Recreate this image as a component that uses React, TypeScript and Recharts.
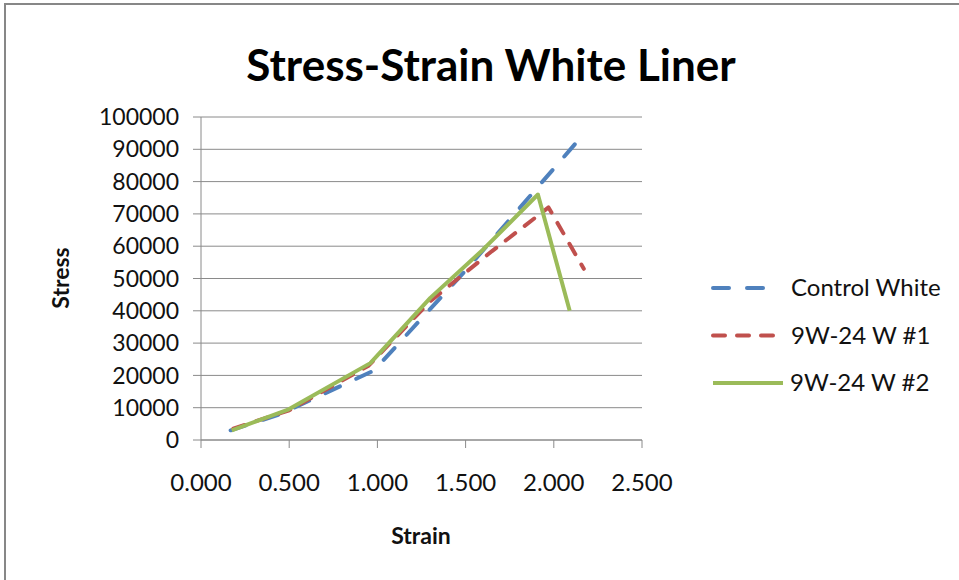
import { CartesianGrid, Line, LineChart, XAxis, YAxis } from "recharts";

const strainTicks = [0, 0.5, 1, 1.5, 2, 2.5];
const stressTicks = [0, 10000, 20000, 30000, 40000, 50000, 60000, 70000, 80000, 90000, 100000];

const controlWhite = [
  { strain: 0.168, stress: 3000 },
  { strain: 0.45, stress: 8000 },
  { strain: 0.98, stress: 21500 },
  { strain: 1.5, stress: 52500 },
  { strain: 2.15, stress: 93500 },
];

const w1 = [
  { strain: 0.183, stress: 3500 },
  { strain: 0.5, stress: 9200 },
  { strain: 0.95, stress: 23000 },
  { strain: 1.3, stress: 43000 },
  { strain: 1.65, stress: 58500 },
  { strain: 1.97, stress: 72000 },
  { strain: 2.17, stress: 53000 },
];

const w2 = [
  { strain: 0.174, stress: 3000 },
  { strain: 0.49, stress: 9300 },
  { strain: 0.96, stress: 23800 },
  { strain: 1.3, stress: 44000 },
  { strain: 1.6, stress: 59000 },
  { strain: 1.91, stress: 76000 },
  { strain: 2.09, stress: 40000 },
];

const series = [
  { name: "Control White", data: controlWhite, color: "#4F81BD", dash: "16 18", width: 4, lineEnd: 54, textX: 80 },
  { name: "9W-24 W #1", data: w1, color: "#C0504D", dash: "12 12", width: 4, lineEnd: 74, textX: 80 },
  { name: "9W-24 W #2", data: w2, color: "#9BBB59", dash: undefined, width: 4, lineEnd: 72, textX: 79 },
];

const font = "Lato, 'Open Sans', sans-serif";

function LegendBox() {
  return (
    <svg width={250} height={140} style={{ overflow: "visible" }}>
      {series.map((s, i) => (
        <g key={s.name} transform={`translate(0, ${i * 47.5})`}>
          <line
            x1={2}
            x2={s.lineEnd}
            y1={0}
            y2={0}
            stroke={s.color}
            strokeWidth={s.width}
            strokeDasharray={s.dash}
            strokeLinecap={s.dash ? "round" : "butt"}
          />
          <text x={s.textX} y={0} dy="0.35em" fontSize={24} fontFamily={font} fill="#111">
            {s.name}
          </text>
        </g>
      ))}
    </svg>
  );
}

export default function App() {
  return (
    <div style={{ position: "absolute", left: 0, top: 0, width: 959, height: 580, overflow: "hidden", background: "#fff" }}>
      <div style={{ position: "absolute", left: 4, top: 3, width: 1100, height: 800, border: "2px solid #878787" }} />
      <div
        style={{
          position: "absolute",
          left: 0,
          width: 982,
          top: 36,
          textAlign: "center",
          fontFamily: font,
          fontWeight: 700,
          fontSize: 44,
          lineHeight: "56px",
          color: "#000",
        }}
      >
        Stress-Strain White Liner
      </div>
      <div
        style={{
          position: "absolute",
          left: 60,
          top: 278,
          transform: "translate(-50%, -50%) rotate(-90deg)",
          fontFamily: font,
          fontWeight: 700,
          fontSize: 23,
          color: "#111",
        }}
      >
        Stress
      </div>
      <div
        style={{
          position: "absolute",
          left: 421,
          top: 535,
          transform: "translate(-50%, -50%)",
          fontFamily: font,
          fontWeight: 700,
          fontSize: 23,
          color: "#111",
        }}
      >
        Strain
      </div>
      <div style={{ position: "absolute", left: 711, top: 288 }}>
        <LegendBox />
      </div>
      <LineChart
        width={959}
        height={580}
        margin={{ top: 117, right: 317, bottom: 0, left: 0 }}
        style={{ position: "absolute", left: 0, top: 0 }}
      >
        <CartesianGrid horizontal vertical={false} stroke="#8a8a8a" strokeWidth={1} />
        <XAxis
          type="number"
          dataKey="strain"
          domain={[0, 2.5]}
          ticks={strainTicks}
          tickFormatter={(v: number) => v.toFixed(3)}
          interval={0}
          tickSize={8}
          tickMargin={26}
          height={140}
          stroke="#8a8a8a"
          tick={{ fill: "#111", fontSize: 24, fontFamily: font }}
          allowDataOverflow
        />
        <YAxis
          type="number"
          dataKey="stress"
          domain={[0, 100000]}
          ticks={stressTicks}
          interval={0}
          width={201}
          tickSize={8}
          tickMargin={14}
          stroke="#8a8a8a"
          tick={{ fill: "#111", fontSize: 23, fontFamily: font }}
        />
        {series.map((s) => (
          <Line
            key={s.name}
            data={s.data}
            dataKey="stress"
            name={s.name}
            type="linear"
            stroke={s.color}
            strokeWidth={s.width}
            strokeDasharray={s.dash}
            strokeLinecap={s.dash ? "round" : "butt"}
            strokeLinejoin="round"
            dot={false}
            activeDot={false}
            isAnimationActive={false}
          />
        ))}
      </LineChart>
    </div>
  );
}
